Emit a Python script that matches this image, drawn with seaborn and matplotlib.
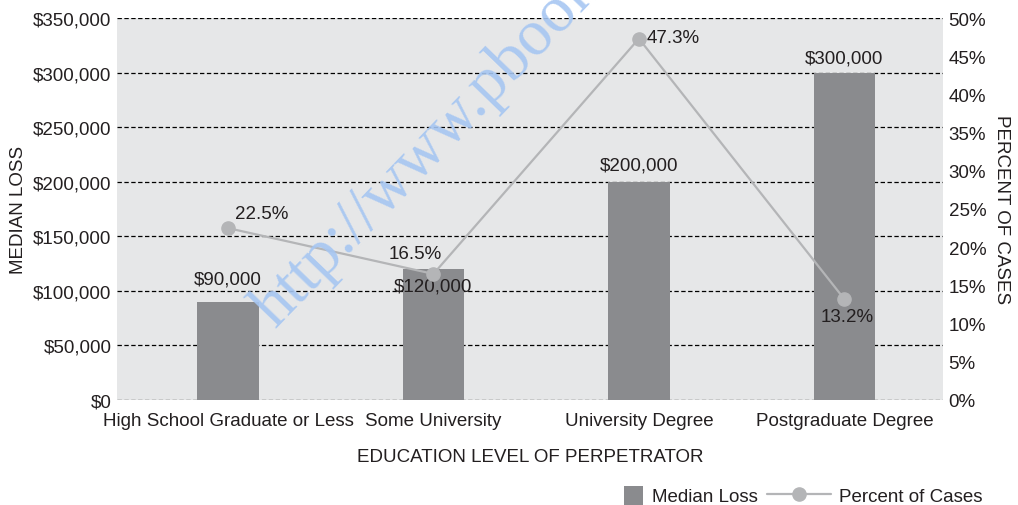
import matplotlib
matplotlib.use("Agg")
import matplotlib.pyplot as plt
import seaborn as sns
import pandas as pd
from matplotlib.patches import Patch, Rectangle
from matplotlib.lines import Line2D
from matplotlib.legend_handler import HandlerPatch
from matplotlib.ticker import FuncFormatter, MultipleLocator

categories = ["High School Graduate or Less", "Some University",
              "University Degree", "Postgraduate Degree"]
median_loss = [90000, 120000, 200000, 300000]
percent_cases = [22.5, 16.5, 47.3, 13.2]
loss_labels = ["$90,000", "$120,000", "$200,000", "$300,000"]
pct_labels = ["22.5%", "16.5%", "47.3%", "13.2%"]

sns.set_theme(style="white")
plt.rcParams["font.family"] = ["Liberation Sans", "DejaVu Sans"]

TXT = "#231f20"
BAR = "#8a8b8e"
LINE = "#b4b5b7"
BG = "#e6e7e8"
FS = 13.5

df = pd.DataFrame({"cat": categories, "loss": median_loss, "pct": percent_cases})

fig = plt.figure(figsize=(10.18, 5.06), dpi=100)
ax = fig.add_axes([117/1018, 1 - 401/506, (943-117)/1018, (401-19)/506])
ax.set_facecolor(BG)

sns.barplot(data=df, x="cat", y="loss", color=BAR, width=0.3, saturation=1,
            edgecolor="none", linewidth=0, ax=ax, zorder=3)
ax.set_xlim(-0.54, 3.48)
ax.set_ylim(0, 350000)
ax.yaxis.set_major_locator(MultipleLocator(50000))
ax.yaxis.set_major_formatter(FuncFormatter(lambda v, p: f"${v:,.0f}"))
ax.grid(axis="y", color="black", linestyle=(0, (3.5, 2)), linewidth=0.9, zorder=4)
ax.set_axisbelow(False)
for s in ax.spines.values():
    s.set_visible(False)
ax.tick_params(axis="both", length=0, labelsize=FS, colors=TXT, pad=4)
ax.tick_params(axis="x", pad=9)
ax.set_xlabel("EDUCATION LEVEL OF PERPETRATOR", fontsize=FS, color=TXT, labelpad=13)
ax.set_ylabel("MEDIAN LOSS", fontsize=FS, color=TXT, labelpad=4)

ax2 = ax.twinx()
ax2.set_xlim(-0.54, 3.48)
ax2.plot(range(len(categories)), percent_cases, color=LINE, linewidth=1.6,
         marker="o", markersize=9.5, zorder=5)
ax2.set_ylim(0, 50)
ax2.yaxis.set_major_locator(MultipleLocator(5))
ax2.yaxis.set_major_formatter(FuncFormatter(lambda v, p: f"{v:.0f}%"))
for s in ax2.spines.values():
    s.set_visible(False)
ax2.tick_params(axis="y", length=0, labelsize=FS, colors=TXT, pad=4)
ax2.set_ylabel("PERCENT OF CASES", fontsize=FS, color=TXT, rotation=-90, labelpad=17)
ax2.grid(False)

# bar labels (pixel offsets of label centre from bar top)
bar_offsets = [23, -17, 17, 15]
for i, (v, lab) in enumerate(zip(median_loss, loss_labels)):
    ax.annotate(lab, (i, v), xytext=(0, bar_offsets[i]), textcoords="offset pixels",
                ha="center", va="center", fontsize=FS, color=TXT, zorder=6)

pct_offsets = [(7, 15, "left"), (-18, 20, "center"), (8, 1, "left"), (3, -17, "center")]
for i, (v, lab) in enumerate(zip(percent_cases, pct_labels)):
    dx, dy, ha = pct_offsets[i]
    ax2.annotate(lab, (i, v), xytext=(dx, dy), textcoords="offset pixels",
                 ha=ha, va="center", fontsize=FS, color=TXT, zorder=6)

# legend
def square_patch(legend, orig_handle, xdescent, ydescent, width, height, fontsize):
    s = height * 1.45
    return Rectangle((width - s - xdescent, -ydescent - 0.3 * height), s, s)

handles = [Patch(facecolor=BAR, edgecolor="none"),
           Line2D([], [], color=LINE, linewidth=1.6, marker="o", markersize=9.5)]
fig.legend(handles, ["Median Loss", "Percent of Cases"], loc="center right",
           bbox_to_anchor=(0.982, 0.017), frameon=False, fontsize=FS,
           ncol=2, handlelength=3.4, handletextpad=0.45, columnspacing=0.5,
           handler_map={Patch: HandlerPatch(patch_func=square_patch)},
           labelcolor=TXT)

# watermark
fig.text(275/1018, 1 - 329/506, "http://www.pbook", rotation=46,
         rotation_mode="anchor", ha="left", va="baseline",
         fontsize=47, color="#a6c6f2", alpha=0.9,
         family=["Liberation Serif", "DejaVu Serif"], zorder=10)

fig.savefig("out.png", dpi=100)
